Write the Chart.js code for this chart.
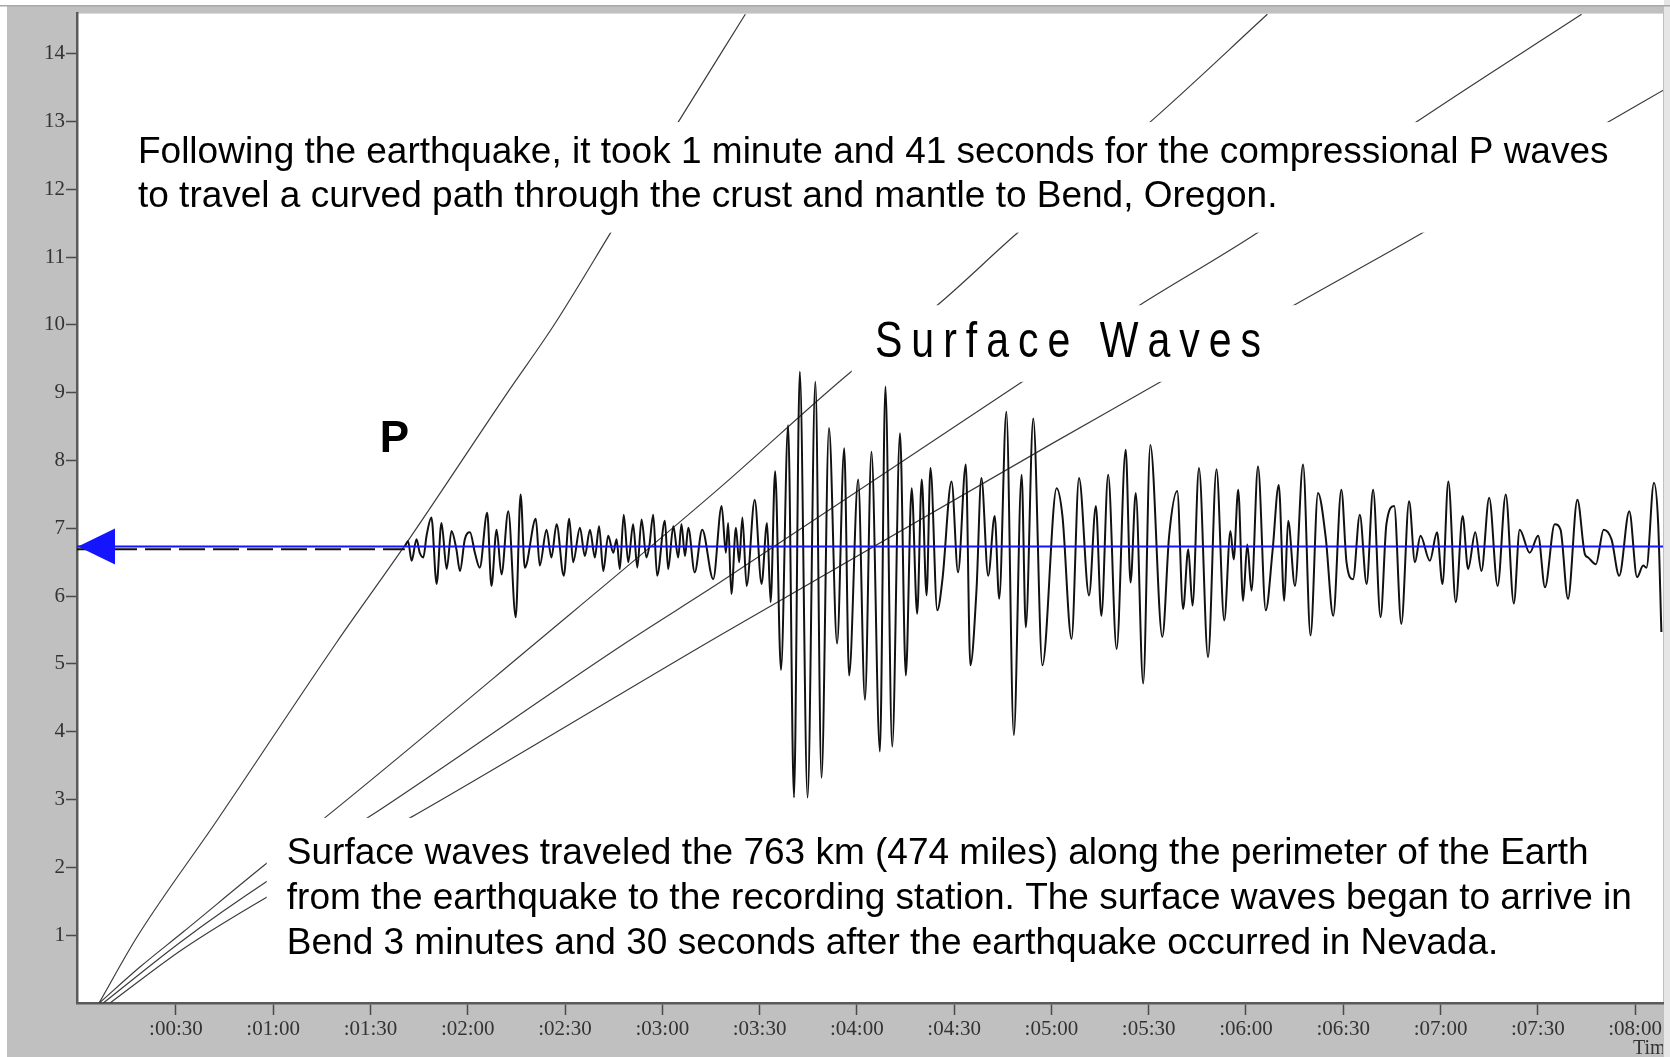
<!DOCTYPE html>
<html>
<head>
<meta charset="utf-8">
<title>Seismogram - Bend, Oregon</title>
<script src="https://cdn.jsdelivr.net/npm/chart.js@4.4.0/dist/chart.umd.min.js"></script>
<style>
  html, body { margin: 0; padding: 0; background: #fff; }
  canvas { display: block; }
</style>
</head>
<body>
<canvas id="seis" width="1670" height="1057"></canvas>
<script>
// seismogram recorded in Bend, with travel-time curves drawn over it

// axis ticks
const xTickValues = [30, 60, 90, 120, 150, 180, 210, 240, 270, 300, 330, 360, 390, 420, 450, 480];
const xTickLabels = [':00:30', ':01:00', ':01:30', ':02:00', ':02:30', ':03:00', ':03:30', ':04:00',
  ':04:30', ':05:00', ':05:30', ':06:00', ':06:30', ':07:00', ':07:30', ':08:00'];
const yTickValues = [1, 2, 3, 4, 5, 6, 7, 8, 9, 10, 11, 12, 13, 14];

// travel-time curves (seconds, distance units of the y axis)
const pTime = [6.3, 18.1, 42.5, 79.6, 100.5, 132.1, 146.5, 164.6, 184.9, 205.6];
const pDist = [0, 0.98, 2.68, 5.32, 6.74, 8.99, 9.99, 11.40, 12.99, 14.58];
const surfATime = [6.4, 18.9, 32.3, 58.0, 75.9, 141.2, 197.8, 238.5, 264.8, 289.4, 330.4, 366.6];
const surfADist = [0, 0.53, 1.05, 2.06, 2.73, 5.32, 7.60, 9.32, 10.29, 11.35, 12.99, 14.58];
const surfBTime = [7.6, 32.3, 58.0, 89.1, 169.0, 197.7, 291.0, 327.2, 363.3, 412.5, 463.5];
const surfBDist = [0, 0.93, 1.79, 2.73, 5.32, 6.20, 9.16, 10.29, 11.35, 12.99, 14.58];
const surfCTime = [9.7, 32.3, 58.0, 102.2, 197.7, 299.5, 333.7, 374.8, 414.2, 471.7, 488.7];
const surfCDist = [0, 0.80, 1.56, 2.73, 5.42, 8.23, 9.16, 10.29, 11.35, 12.99, 13.46];

// zero line of the record and the quiet part before the P arrival
const baselineTime = [-0.5, 488.6];
const baselineValue = [6.73, 6.73];
const preEventTime = [-0.5, 100.6];
const preEventValue = [6.69, 6.69];

// the record itself, peaks and troughs
const traceTime = [
  100.6, 101.6, 102.7, 104.2, 105.2, 106.3, 107.3, 108.8, 110.4, 111.9, 113.5, 115.0, 116.5, 117.6,
  119.1, 120.7, 122.2, 123.7, 126.0, 127.3, 128.9, 130.4, 132.5, 134.8, 136.3, 137.6, 141.0, 142.2,
  144.3, 145.8, 147.4, 149.6, 151.3, 152.5, 154.6, 156.1, 157.7, 159.2, 160.5, 161.8, 163.3, 164.9,
  165.9, 166.9, 168.1, 169.5, 171.0, 172.3, 173.6, 175.1, 176.0, 177.2, 178.4, 180.8, 181.8, 183.4,
  184.9, 185.9, 187.0, 188.0, 190.0, 192.3, 195.7, 198.3,
  199.6, 200.3, 201.3, 202.7, 203.7, 204.7, 206.0, 208.5, 210.6, 212.3, 213.4, 214.8, 216.6, 218.8,
  220.6, 222.4, 224.8, 227.2, 229.1, 231.4, 233.9, 236.1, 237.6, 240.4, 242.5, 244.5, 247.1, 248.8,
  250.9, 253.3, 255.1, 256.9, 258.6, 260.0, 261.5, 262.7, 264.8, 266.4, 269.2, 271.2, 273.6, 275.0,
  276.9, 278.4, 280.5, 282.5, 283.9, 286.1, 288.4, 290.8, 292.1, 294.4, 297.2,
  301.6, 303.4, 306.2, 308.5, 311.6, 313.7, 315.4, 317.5, 320.1, 322.9, 324.4, 326.0, 328.3, 330.5,
  334.2, 336.3, 338.8, 340.6, 342.2, 343.5, 345.5, 348.3, 350.9, 353.3, 355.2, 356.2, 357.6, 359.1,
  360.4, 361.7, 363.7, 366.1, 368.2, 370.1, 371.8, 373.0, 375.1, 377.6, 379.9, 382.2, 384.6, 386.9,
  389.4, 391.0,
  393.0, 395.1, 397.2, 399.2, 401.5, 403.3, 405.7, 407.9, 410.3, 412.1, 413.8, 416.7, 418.9, 420.6,
  422.4, 424.7, 426.8, 428.5, 430.7, 432.6, 435.0, 437.6, 440.1, 442.6, 444.4, 447.5, 450.1, 452.2,
  455.2, 457.0, 459.3, 462.2, 464.5, 465.5, 467.9, 470.3, 472.7, 475.1, 478.2, 480.6, 482.5, 483.5,
  485.8, 487.1, 488.1
];
const traceValue = [
  6.73, 6.81, 6.52, 6.84, 6.64, 6.57, 6.89, 7.16, 6.18, 7.08, 6.40, 6.96, 6.69, 6.37,
  6.84, 6.94, 6.64, 6.42, 7.23, 6.15, 6.98, 6.32, 7.25, 5.69, 7.50, 6.42, 7.14, 6.45,
  6.98, 6.57, 7.06, 6.30, 7.14, 6.50, 7.01, 6.59, 6.98, 6.57, 7.03, 6.37, 6.89, 6.64,
  6.84, 6.40, 7.20, 6.50, 7.06, 6.42, 7.13, 6.57, 6.74, 7.20, 6.30, 7.11, 6.40, 7.03,
  6.57, 7.06, 6.59, 7.01, 6.35, 6.98, 6.25, 7.33,
  6.64, 7.08, 6.03, 7.01, 6.50, 7.16, 6.15, 7.42, 6.18, 7.08, 5.91, 7.84, 4.91, 8.52,
  3.03, 9.31, 3.03, 9.16, 3.32, 8.48, 5.30, 8.18, 4.83, 7.72, 4.47, 8.13, 3.71, 9.09,
  3.78, 8.40, 4.83, 7.59, 5.74, 7.72, 6.01, 7.89, 5.79, 6.25, 7.69, 6.35, 7.94, 4.98,
  6.10, 7.74, 6.30, 7.18, 5.96, 8.72, 3.95, 7.79, 5.54, 8.62, 4.98,
  7.59, 7.18, 5.37, 7.74, 6.01, 7.33, 5.71, 7.79, 5.22, 8.16, 6.20, 7.52, 4.71, 8.23,
  5.40, 6.89, 7.55, 5.81, 6.69, 5.86, 7.89, 5.10, 7.87, 5.64, 6.96, 6.54, 7.57, 5.93,
  6.76, 6.08, 7.91, 5.79, 6.67, 7.64, 5.93, 7.11, 6.15, 7.94, 5.42, 7.52, 6.86, 5.71,
  7.57, 6.50,
  6.25, 7.20, 6.18, 7.57, 5.69, 7.06, 7.33, 5.59, 7.40, 6.50, 6.89, 6.52, 6.94, 6.18,
  7.69, 5.91, 7.18, 6.40, 6.94, 6.37, 7.45, 6.15, 7.50, 5.89, 6.98, 6.64, 6.89, 6.13,
  7.06, 6.98, 5.96, 7.42, 6.62, 6.57, 6.47, 6.98, 6.84, 6.30, 7.25, 6.28, 6.45, 6.42,
  7.67, 7.08, 5.47
];

const topNote = [
  'Following the earthquake, it took 1 minute and 41 seconds for the compressional P waves',
  'to travel a curved path through the crust and mantle to Bend, Oregon.'
];
const bottomNote = [
  'Surface waves traveled the 763 km (474 miles) along the perimeter of the Earth',
  'from the earthquake to the recording station. The surface waves began to arrive in',
  'Bend 3 minutes and 30 seconds after the earthquake occurred in Nevada.'
];

const pairs = (xs, ys) => xs.map((x, i) => ({ x, y: ys[i] }));

const SANS = '"Liberation Sans", Arial, Helvetica, sans-serif';
const SERIF = '"Liberation Serif", "Times New Roman", serif';
const CURVE = { borderColor: '#3c3c3c', borderWidth: 1.2, pointRadius: 0, fill: false,
  cubicInterpolationMode: 'monotone' };

// grey panel around a white plot, like the old seismograph viewer
const backdrop = {
  id: 'backdrop',
  beforeDraw(chart) {
    const { ctx, width, height, chartArea: a } = chart;
    ctx.save();
    ctx.fillStyle = '#ffffff';
    ctx.fillRect(0, 0, width, height);
    ctx.fillStyle = '#c0c0c0';
    ctx.fillRect(7, 6, width - 7, height - 6);
    ctx.fillStyle = '#e6e6e6';
    ctx.fillRect(a.right + 1, 0, width - a.right, height);
    ctx.fillStyle = '#a8a8a8';
    ctx.fillRect(0, 5, width, 1.5);
    ctx.fillStyle = '#ffffff';
    ctx.fillRect(a.left, a.top, a.right - a.left, a.bottom - a.top);
    ctx.restore();
  }
};

// white text panels, labels and the arrow at the zero line
const notes = {
  id: 'notes',
  afterDatasetsDraw(chart) {
    const { ctx, chartArea: a } = chart;
    const sx = chart.scales.x, sy = chart.scales.y;
    const X = (v) => sx.getPixelForValue(v);
    const Y = (v) => sy.getPixelForValue(v);
    ctx.save();

    // panels hide the curves behind the text (data coords)
    ctx.fillStyle = '#ffffff';
    [[15.2, 481.4, 11.36, 12.99], [238.4, 386.4, 9.16, 10.29], [58.0, 481.4, 0.56, 2.73]].forEach(([x0, x1, y0, y1]) => {
      ctx.fillRect(X(x0), Y(y1), X(x1) - X(x0), Y(y0) - Y(y1));
    });

    ctx.fillStyle = '#000';
    ctx.textBaseline = 'alphabetic';
    ctx.textAlign = 'left';
    ctx.font = '37px ' + SANS;
    topNote.forEach((line, i) => ctx.fillText(line, X(18.3), Y(12.38) + i * 44));
    bottomNote.forEach((line, i) => ctx.fillText(line, X(64.2), Y(2.05) + i * 45));

    ctx.font = 'bold 44px ' + SANS;
    ctx.fillText('P', X(92.9), Y(8.12));

    // spaced, narrow lettering
    ctx.font = '50px ' + SANS;
    ctx.save();
    ctx.translate(X(245.6), Y(9.52));
    ctx.scale(0.82, 1);
    let cx = 0;
    for (const ch of 'Surface Waves') {
      ctx.fillText(ch, cx, 0);
      cx += ctx.measureText(ch).width + 9 / 0.82;
    }
    ctx.restore();

    // arrowhead at the start of the zero line
    const tipX = X(sx.min), tipY = Y(baselineValue[0]);
    ctx.fillStyle = '#1414ff';
    ctx.beginPath();
    ctx.moveTo(tipX + 1, tipY);
    ctx.lineTo(tipX + 38, tipY - 18);
    ctx.lineTo(tipX + 38, tipY + 18);
    ctx.closePath();
    ctx.fill();

    // cut-off axis title at the bottom right
    ctx.beginPath();
    ctx.rect(0, 0, a.right, chart.height);
    ctx.clip();
    ctx.fillStyle = '#333';
    ctx.font = '20px ' + SERIF;
    ctx.textBaseline = 'middle';
    ctx.fillText('Time', a.right - 30, 1049);
    ctx.restore();
  }
};

const tickFont = { family: SERIF, size: 21 };

new Chart(document.getElementById('seis'), {
  type: 'line',
  data: {
    datasets: [
      { label: 'zero line', data: pairs(baselineTime, baselineValue), borderColor: '#1414ff', borderWidth: 2, pointRadius: 0 },
      { label: 'record', data: pairs(traceTime, traceValue), borderColor: '#111111', borderWidth: 2,
        pointRadius: 0, cubicInterpolationMode: 'monotone' },
      { label: 'before P', data: pairs(preEventTime, preEventValue), borderColor: '#111', borderWidth: 2,
        borderDash: [26, 8], pointRadius: 0 },
      { label: 'P', data: pairs(pTime, pDist), ...CURVE },
      { label: 'surface A', data: pairs(surfATime, surfADist), ...CURVE },
      { label: 'surface B', data: pairs(surfBTime, surfBDist), ...CURVE },
      { label: 'surface C', data: pairs(surfCTime, surfCDist), ...CURVE }
    ]
  },
  options: {
    responsive: false,
    animation: false,
    events: [],
    layout: { padding: { left: 0, top: 8, right: 7, bottom: 0 } },
    plugins: { legend: { display: false }, tooltip: { enabled: false } },
    scales: {
      x: {
        type: 'linear',
        min: -0.5,
        max: 488.6,
        afterBuildTicks: (s) => { s.ticks = xTickValues.map((v) => ({ value: v })); },
        afterFit: (s) => { s.height = 54; },
        ticks: { callback: (v, i) => xTickLabels[i], autoSkip: false, maxRotation: 0, minRotation: 0,
          padding: 2, color: '#333', font: tickFont },
        grid: { drawOnChartArea: false, tickLength: 12, color: '#4a4a4a', tickWidth: 1.5 },
        border: { color: '#5a5a5a', width: 2.5 }
      },
      y: {
        type: 'linear',
        min: 0,
        max: 14.59,
        afterBuildTicks: (s) => { s.ticks = yTickValues.map((v) => ({ value: v })); },
        afterFit: (s) => { s.width = 77; },
        ticks: { callback: (v) => String(v), padding: 1, color: '#333', font: tickFont },
        grid: { drawOnChartArea: false, tickLength: 11, color: '#4a4a4a', tickWidth: 1.5 },
        border: { color: '#5a5a5a', width: 2.5 }
      }
    }
  },
  plugins: [backdrop, notes]
});
</script>
</body>
</html>
